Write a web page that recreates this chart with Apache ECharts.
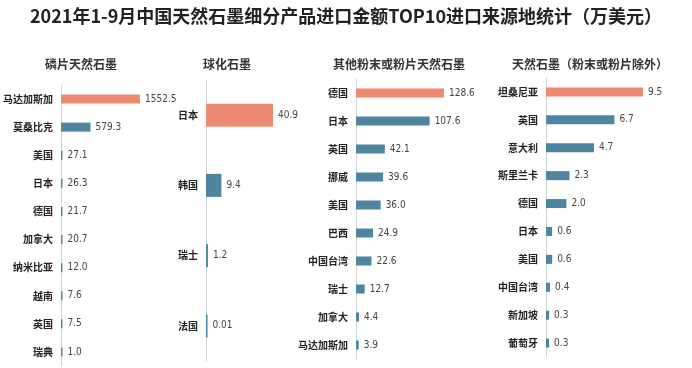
<!DOCTYPE html>
<html><head><meta charset="utf-8">
<script src="https://cdn.jsdelivr.net/npm/echarts@6/dist/echarts.min.js"></script>
<style>html,body{margin:0;padding:0;background:#fff}#c{width:692px;height:368px}</style>
</head><body><div id="c"></div>
<script>
const mainTitle = '2021年1-9月中国天然石墨细分产品进口金额TOP10进口来源地统计（万美元）';
const panelTitles = ['磷片天然石墨', '球化石墨', '其他粉末或粉片天然石墨', '天然石墨（粉末或粉片除外）'];

const cats1 = ['马达加斯加','莫桑比克','美国','日本','德国','加拿大','纳米比亚','越南','英国','瑞典'];
const vals1 = [1552.5, 579.3, 27.1, 26.3, 21.7, 20.7, 12.0, 7.6, 7.5, 1.0];

const cats2 = ['日本','韩国','瑞士','法国'];
const vals2 = [40.9, 9.4, 1.2, 0.01];

const cats3 = ['德国','日本','英国','挪威','美国','巴西','中国台湾','瑞士','加拿大','马达加斯加'];
const vals3 = [128.6, 107.6, 42.1, 39.6, 36.0, 24.9, 22.6, 12.7, 4.4, 3.9];

const cats4 = ['坦桑尼亚','英国','意大利','斯里兰卡','德国','日本','美国','中国台湾','新加坡','葡萄牙'];
const vals4 = [9.5, 6.7, 4.7, 2.3, 2.0, 0.6, 0.6, 0.4, 0.3, 0.3];

const panels = [
  {cats: cats1, vals: vals1, grid: {left: 61, top: 85, width: 79, height: 281}, barW: 9, tx: 45},
  {cats: cats2, vals: vals2, grid: {left: 206, top: 80, width: 67, height: 281}, barW: 23, tx: 203},
  {cats: cats3, vals: vals3, grid: {left: 356, top: 79, width: 88, height: 280}, barW: 9, tx: 333},
  {cats: cats4, vals: vals4, grid: {left: 546, top: 78, width: 97, height: 279}, barW: 9, tx: 512}
];

const ORANGE = '#EE8A6F', BLUE = '#4E86A2';
const fmt = v => (v < 0.1 ? String(v) : v.toFixed(1));

const chart = echarts.init(document.getElementById('c'));
const option = {
  backgroundColor: '#fff',
  animation: false,
  title: [{
    text: mainTitle, left: 'center', top: 7, padding: 0,
    textStyle: {fontFamily: 'Noto Sans CJK SC', fontSize: 18, fontWeight: 'bold', color: '#222'}
  }].concat(panels.map((p, i) => ({
    text: panelTitles[i], left: p.tx, top: 58, padding: 0,
    textStyle: {fontFamily: 'Noto Sans CJK SC', fontSize: 12, fontWeight: 'bold', color: '#333'}
  }))),
  grid: panels.map(p => Object.assign({containLabel: false}, p.grid)),
  xAxis: panels.map((p, i) => ({
    type: 'value', gridIndex: i, min: 0, max: Math.max(...p.vals), show: false
  })),
  yAxis: panels.map((p, i) => ({
    type: 'category', gridIndex: i, inverse: true, data: p.cats,
    axisLine: {show: true, lineStyle: {color: '#cfd4d8', width: 1}},
    axisTick: {show: false},
    axisLabel: {margin: 8, fontFamily: 'Noto Sans CJK SC', fontSize: 10, fontWeight: 'bold', color: '#222'}
  })),
  series: panels.map((p, i) => ({
    type: 'bar', xAxisIndex: i, yAxisIndex: i, data: p.vals,
    barWidth: p.barW, barMinHeight: 1.5,
    itemStyle: {color: params => (params.dataIndex === 0 ? ORANGE : BLUE)},
    label: {
      show: true, position: 'right', distance: 5,
      formatter: params => fmt(params.value),
      fontFamily: "'Liberation Sans Narrow','DejaVu Sans Condensed',sans-serif",
      fontSize: 10, color: '#444'
    }
  }))
};
chart.setOption(option);
</script>
</body></html>
